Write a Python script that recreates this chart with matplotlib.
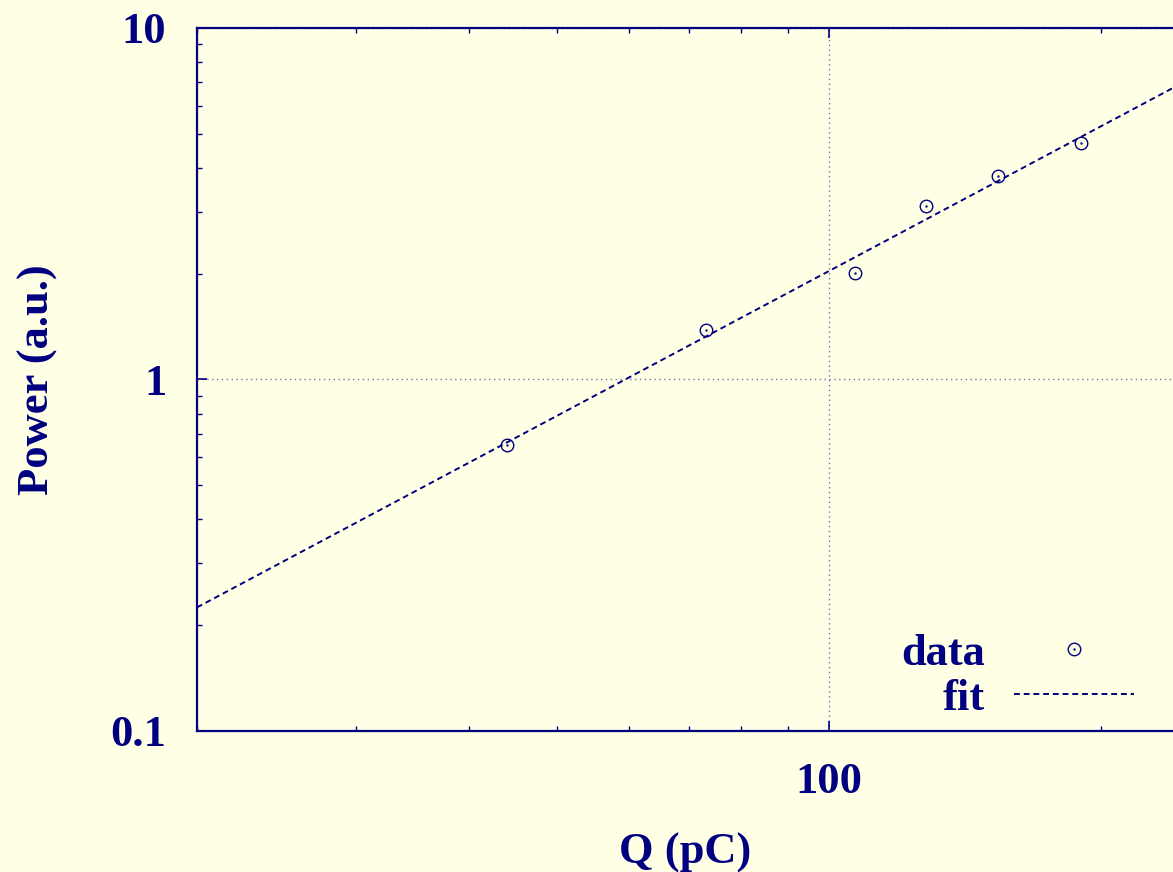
import numpy as np
import matplotlib
matplotlib.use('Agg')
import matplotlib.pyplot as plt
from matplotlib.path import Path

charge = [44.0, 73.0, 106.8, 128.0, 153.7, 189.8]
power = [0.653, 1.379, 2.003, 3.106, 3.805, 4.693]

x_range = (20, 240)
y_range = (0.1, 10)

NAVY = '#000080'
BG = '#ffffe6'

plt.rcParams['font.family'] = ['Liberation Serif', 'DejaVu Serif']
plt.rcParams['font.weight'] = 'bold'
plt.rcParams['axes.labelweight'] = 'bold'
plt.rcParams['font.size'] = 32


def dot_circle():
    # open circle with a dot in the middle, like gnuplot's point type
    return Path.make_compound_path(Path.unit_circle(), Path.circle(radius=0.08))


def main():
    fig = plt.figure(figsize=(11.73, 8.72), dpi=100, facecolor=BG)
    ax = fig.add_axes([197 / 1173, 141 / 872, 1 - 197 / 1173, 703 / 872])
    ax.set_facecolor(BG)

    # power-law fit in log space
    b, loga = np.polyfit(np.log10(charge), np.log10(power), 1)
    xf = np.geomspace(x_range[0], x_range[1], 100)
    yf = 10 ** loga * xf ** b

    ax.plot(charge, power, linestyle='none', marker=dot_circle(), markersize=9,
            markerfacecolor='none', markeredgecolor=NAVY, markeredgewidth=1.0,
            label='data')
    ax.plot(xf, yf, color=NAVY, linewidth=1.4, linestyle=(0, (3, 2)), label='fit')

    ax.set_xscale('log')
    ax.set_yscale('log')
    ax.set_xlim(*x_range)
    ax.set_ylim(*y_range)

    ax.set_xticks([100])
    ax.set_xticklabels(['100'])
    ax.set_yticks([0.1, 1, 10])
    ax.set_yticklabels(['0.1', '1', '10'])

    ax.tick_params(which='both', direction='in', colors=NAVY, top=True, right=False,
                   labelcolor=NAVY)
    ax.tick_params(which='major', length=7, width=1.2)
    ax.tick_params(which='minor', length=3.5, width=1.0)
    ax.tick_params(axis='x', which='major', pad=22)
    ax.tick_params(axis='y', which='major', pad=22)

    for name, sp in ax.spines.items():
        sp.set_color(NAVY)
        sp.set_linewidth(1.6)
    ax.spines['right'].set_visible(False)

    ax.grid(True, which='major', color='#7070b0', linestyle=(0, (1, 2.5)), linewidth=1.0)

    ax.set_xlabel('Q (pC)', color=NAVY, labelpad=22)
    ax.set_ylabel('Power (a.u.)', color=NAVY, labelpad=38)

    leg = ax.legend(loc='lower right', bbox_to_anchor=(0.978, -0.008), markerfirst=False,
                    frameon=False, handlelength=2.7, handletextpad=0.65,
                    labelspacing=0.11, borderaxespad=0.0)
    for t in leg.get_texts():
        t.set_color(NAVY)

    fig.savefig('out.png', dpi=100, facecolor=BG)


if __name__ == '__main__':
    main()
